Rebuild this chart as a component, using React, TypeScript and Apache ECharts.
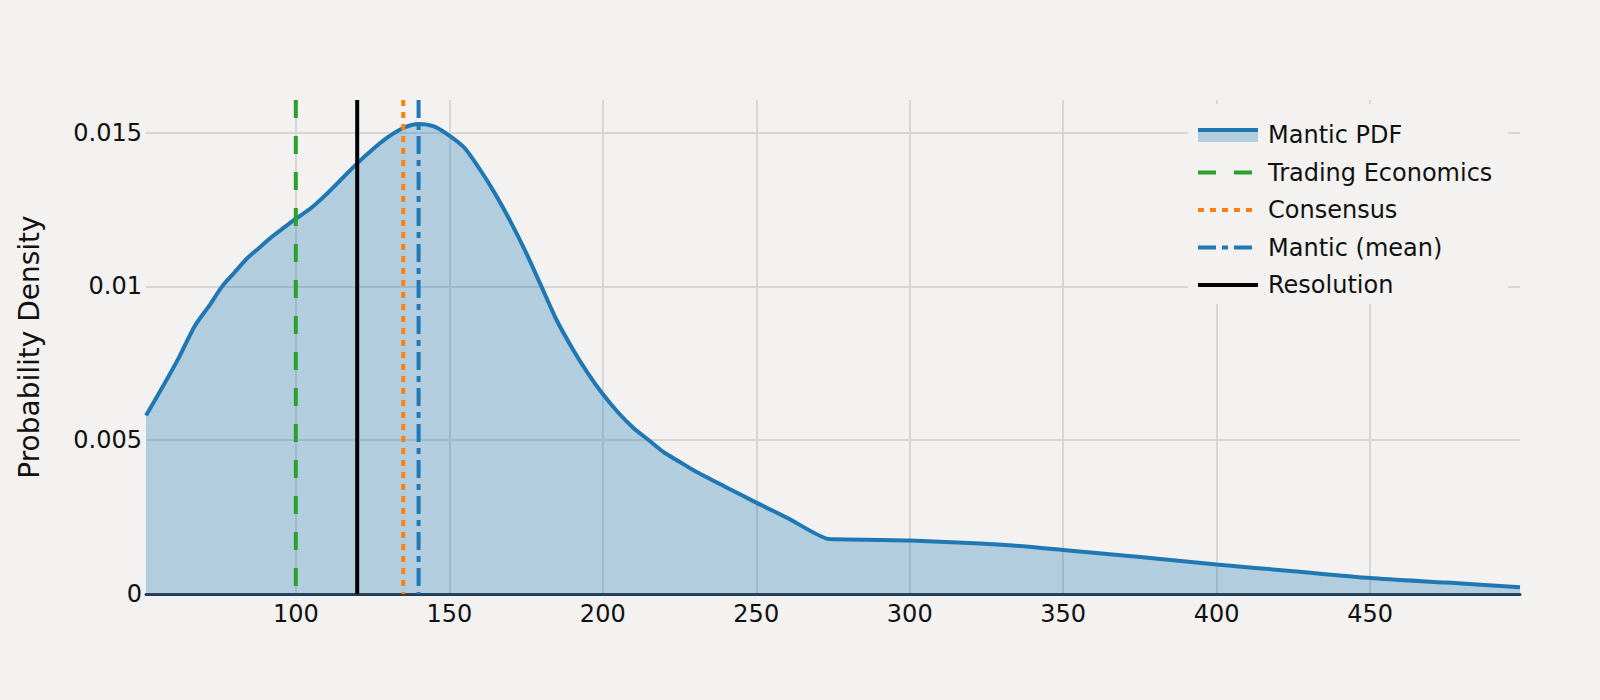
import React, { useEffect, useRef } from "react";
import * as echarts from "echarts";

// ---- data ----
const PDF_NAME = "Mantic PDF";
const PDF_X = [
  51.2, 57, 62, 67, 72, 76, 80, 84, 88, 92, 96, 100, 105, 110, 115, 120, 125, 130, 135, 140,
  145, 150, 155, 160, 165, 170, 175, 180, 185, 190, 195, 200, 205, 210, 215, 220, 225, 230,
  240, 250, 260, 273, 276, 300, 330, 350, 375, 400, 425, 450, 475, 498.8,
];
const PDF_Y = [
  0.0058, 0.0068, 0.0077, 0.0087, 0.0094, 0.01, 0.01045, 0.0109, 0.01125, 0.0116, 0.0119,
  0.0122, 0.01255, 0.013, 0.0135, 0.014, 0.01445, 0.01485, 0.01515, 0.01528, 0.0152, 0.0149,
  0.0145, 0.0138, 0.013, 0.0121, 0.0111, 0.01, 0.0089, 0.008, 0.0072, 0.0065, 0.0059, 0.0054,
  0.005, 0.0046, 0.0043, 0.004, 0.00348, 0.00297, 0.00248, 0.0018, 0.00178, 0.00174, 0.0016,
  0.00143, 0.0012, 0.00096, 0.00074, 0.00052, 0.00037, 0.00022,
];
const MARKER_NAMES = ["Trading Economics", "Consensus", "Mantic (mean)", "Resolution"];
const MARKER_VALUES = [100, 135, 140, 120];
const MARKER_COLORS = ["#2ca02c", "#ff7f0e", "#1f77b4", "#000000"];
const MARKER_DASHES: any[] = [[18, 18], [6, 6], [18, 6, 6, 6], "solid"];
const LEGEND_ORDER = [PDF_NAME, "Trading Economics", "Consensus", "Mantic (mean)", "Resolution"];

const X_MIN = 51.2;
const X_MAX = 498.8;
const Y_MAX = 0.01606;
const Y_STEP = 0.005;
const X_STEP = 50;

const FONT = "DejaVu Sans";
const BG = "#f3f2f0";
const BLUE = "#1f77b4";
const FILL = "rgba(31,119,180,0.3)";

export default function App() {
  const ref = useRef<HTMLDivElement>(null);

  useEffect(() => {
    if (!ref.current) return;
    const chart = echarts.init(ref.current, undefined, { renderer: "svg" });

    const pdfData = PDF_X.map((x, i) => [x, PDF_Y[i]]);

    const markerSeries = MARKER_NAMES.map((name, i) => ({
      name,
      type: "line",
      data: [
        [MARKER_VALUES[i], Y_MAX],
        [MARKER_VALUES[i], 0],
      ],
      symbol: "none",
      silent: true,
      z: 5,
      lineStyle: { color: MARKER_COLORS[i], width: 4, type: MARKER_DASHES[i] },
    }));

    // legend drawn as graphic
    const lx = 1188;
    const ly = 104;
    const rowStart = 135;
    const rowStep = 37.5;
    const ZL = 100;
    const legendChildren: any[] = [
      {
        type: "rect",
        z: ZL,
        shape: { x: lx, y: ly, width: 320, height: 200 },
        style: { fill: BG },
      },
    ];
    LEGEND_ORDER.forEach((name, i) => {
      const cy = rowStart + i * rowStep;
      if (i === 0) {
        legendChildren.push({
          type: "rect",
          z: ZL + 1,
          shape: { x: 1198, y: cy - 3, width: 60, height: 10 },
          style: { fill: FILL },
        });
        legendChildren.push({
          type: "rect",
          z: ZL + 2,
          shape: { x: 1198, y: cy - 7, width: 60, height: 4 },
          style: { fill: BLUE },
        });
      } else {
        const k = MARKER_NAMES.indexOf(name);
        const dash = MARKER_DASHES[k];
        legendChildren.push({
          type: "line",
          z: ZL + 1,
          shape: { x1: 1198, y1: cy, x2: 1258, y2: cy },
          style: {
            stroke: MARKER_COLORS[k],
            lineWidth: 4,
            lineDash: Array.isArray(dash) ? dash : null,
          },
        });
      }
      legendChildren.push({
        type: "text",
        z: ZL + 1,
        x: 1268,
        y: cy,
        style: {
          text: name,
          fontSize: 24,
          fontFamily: FONT,
          fill: "#111",
          verticalAlign: "middle",
          align: "left",
        },
      });
    });

    chart.setOption({
      animation: false,
      backgroundColor: BG,
      textStyle: { fontFamily: FONT },
      grid: { left: 146, right: 80, top: 100, bottom: 106, containLabel: false },
      xAxis: {
        type: "value",
        min: X_MIN,
        max: X_MAX,
        splitNumber: 9,
        minInterval: X_STEP,
        maxInterval: X_STEP,
        axisLine: { show: true, onZero: false, lineStyle: { color: "#283b4f", width: 3 } },
        axisTick: { show: false },
        axisLabel: {
          fontSize: 24,
          fontFamily: FONT,
          color: "#111",
          margin: 8,
          showMinLabel: false,
          showMaxLabel: false,
        },
        splitLine: {
          show: true,
          showMinLine: false,
          showMaxLine: false,
          lineStyle: { color: "#d6d6d6", width: 2 },
        },
      },
      yAxis: {
        type: "value",
        min: 0,
        max: Y_MAX,
        splitNumber: 3,
        minInterval: Y_STEP,
        maxInterval: Y_STEP,
        name: "Probability Density",
        nameLocation: "middle",
        nameGap: 103,
        nameTextStyle: { fontSize: 28, fontFamily: FONT, color: "#111" },
        axisLine: { show: false },
        axisTick: { show: false },
        axisLabel: {
          fontSize: 24,
          fontFamily: FONT,
          color: "#111",
          margin: 4,
          showMaxLabel: false,
        },
        splitLine: {
          show: true,
          showMaxLine: false,
          lineStyle: { color: "#d6d6d6", width: 2 },
        },
      },
      series: [
        {
          name: PDF_NAME,
          type: "line",
          data: pdfData,
          symbol: "none",
          smooth: 0.25,
          silent: true,
          z: 3,
          lineStyle: { color: BLUE, width: 4 },
          areaStyle: { color: FILL, opacity: 1 },
        },
        ...markerSeries,
      ],
      graphic: [{ type: "group", z: ZL, children: legendChildren }],
    });

    return () => chart.dispose();
  }, []);

  return (
    <div
      ref={ref}
      style={{ position: "absolute", left: 0, top: 0, width: 1600, height: 700 }}
    />
  );
}
